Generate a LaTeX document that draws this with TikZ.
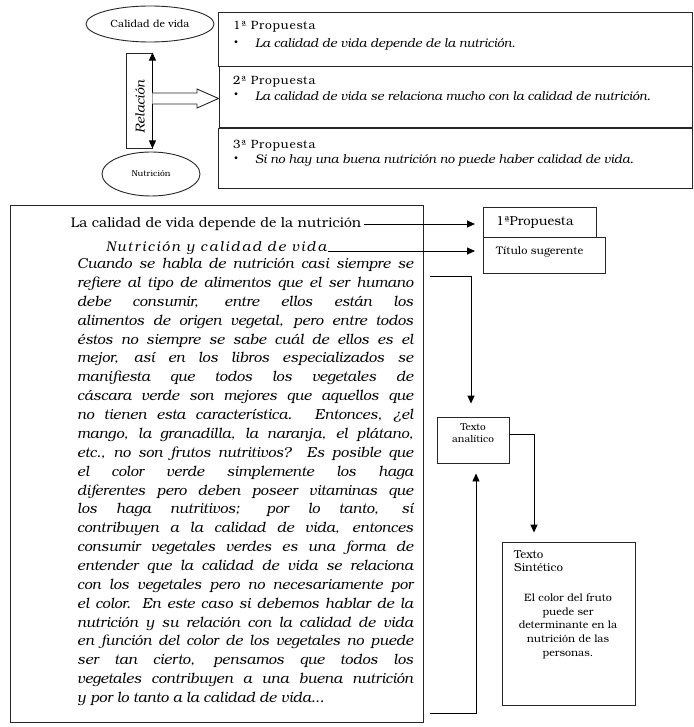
\documentclass[tikz,border=0pt]{standalone}
\usepackage{fontspec}
\setmainfont{TeX Gyre Bonum}
\usetikzlibrary{arrows.meta,shapes.geometric}
\begin{document}
\begin{tikzpicture}[x=1pt,y=-1pt,
  frame/.style={draw=black!85,line width=0.9pt},
  lbl/.style={inner sep=0pt,anchor=west},
  link/.style={line width=0.9pt,draw=black},
  arrowed/.style={-{Triangle[length=8pt,width=7pt]}},
  small/.style={font=\fontsize{8.5}{10}\selectfont},
  head/.style={font=\fontsize{12}{14}\selectfont\addfontfeature{LetterSpace=6}},
  prop/.style={font=\fontsize{12.5}{14}\selectfont\itshape}]
\useasboundingbox (0,0) rectangle (693,727);

% --- upper part: concepts and their relation
\node[ellipse,frame,minimum width=128pt,minimum height=36pt,font=\fontsize{10.5}{12}\selectfont] (cv) at (150,24) {Calidad de vida};
\node[ellipse,frame,minimum width=98pt,minimum height=44pt,small] (nu) at (151,174) {Nutrición};
\node[frame,minimum width=26pt,minimum height=95pt] (rel) at (139,100.5) {};
\node[rotate=90,font=\fontsize{13}{15}\selectfont\itshape] at (140,107) {Relación};
\draw[link,{Triangle[length=8pt,width=7pt]}-{Triangle[length=8pt,width=7pt]}] (rel.north east) -- (rel.south east);

% proposals
\node[frame,minimum width=474pt,minimum height=54pt] (p1) at (455,39) {};
\node[frame,minimum width=473pt,minimum height=61pt] (p2) at (455.5,96.5) {};
\node[frame,minimum width=474pt,minimum height=60pt] (p3) at (455,158) {};

% hollow arrow from the relation to the proposals
\draw[frame,fill=white] (rel.east |- 0,93) -- (197,93) -- (197,89) -- (p2.west |- 0,98.5)
  -- (197,108) -- (197,104) -- (rel.east |- 0,104);

\node[lbl,head] at (233,27) {1ª Propuesta};
\node[lbl,small] at (234,43) {\textbullet};
\node[lbl,prop] at (255,44) {La calidad de vida depende de la nutrición.};
\node[lbl,head] at (233,82) {2ª Propuesta};
\node[lbl,small] at (234,95) {\textbullet};
\node[lbl,prop] at (255,96) {La calidad de vida se relaciona mucho con la calidad de nutrición.};
\node[lbl,head] at (233,146) {3ª Propuesta};
\node[lbl,small] at (234,159) {\textbullet};
\node[lbl,prop] at (255,160) {Si no hay una buena nutrición no puede haber calidad de vida.};

% --- lower part: the text and its analysis
\node[frame,minimum width=413pt,minimum height=517pt] (txt) at (216.5,463.5) {};
\node[inner sep=0pt,font=\fontsize{14}{16}\selectfont] (l1) at (216,224) {La calidad de vida depende de la nutrición};
\node[inner sep=0pt,font=\fontsize{14}{16}\selectfont\itshape\addfontfeature{LetterSpace=13}] (l2) at (216,248) {Nutrición y calidad de vida};

\node[frame,minimum width=113pt,minimum height=30pt,anchor=north west,inner sep=0pt] (pr) at (483,207) {};
\node[lbl,font=\fontsize{13}{15}\selectfont] at (496,223) {1ªPropuesta};
\node[frame,minimum width=122pt,minimum height=36pt,anchor=north west,inner sep=0pt] (ts) at (483,237) {};
\node[lbl,font=\fontsize{11}{13}\selectfont] at (496,252) {Título sugerente};

\draw[link,arrowed,shorten >=8pt,shorten <=3pt] (l1.east) -- (l1.east -| pr.west);
\coordinate (l2e) at ([yshift=-3pt,xshift=2pt]l2.east);
\draw[link,arrowed,shorten >=8pt] (l2e) -- (l2e -| ts.west);

\node[anchor=north west,inner sep=0pt,text width=336pt,align=justify,
      font=\fontsize{14.5}{18.87}\selectfont\itshape] (par) at (77,258) {%
\tolerance=10000\hyphenpenalty=10000\emergencystretch=0pt
Cuando se habla de nutrición casi siempre se\linebreak
refiere al tipo de alimentos que el ser humano\linebreak
debe consumir, entre ellos están los\linebreak
alimentos de origen vegetal, pero entre todos\linebreak
éstos no siempre se sabe cuál de ellos es el\linebreak
mejor, así en los libros especializados se\linebreak
manifiesta que todos los vegetales de\linebreak
cáscara verde son mejores que aquellos que\linebreak
no tienen esta característica. Entonces, ¿el\linebreak
mango, la granadilla, la naranja, el plátano,\linebreak
etc., no son frutos nutritivos? Es posible que\linebreak
el color verde simplemente los haga\linebreak
diferentes pero deben poseer vitaminas que\linebreak
los haga nutritivos; por lo tanto, sí\linebreak
contribuyen a la calidad de vida, entonces\linebreak
consumir vegetales verdes es una forma de\linebreak
entender que la calidad de vida se relaciona\linebreak
con los vegetales pero no necesariamente por\linebreak
el color. En este caso si debemos hablar de la\linebreak
nutrición y su relación con la calidad de vida\linebreak
en función del color de los vegetales no puede\linebreak
ser tan cierto, pensamos que todos los\linebreak
vegetales contribuyen a una buena nutrición\linebreak
y por lo tanto a la calidad de vida...};

\node[frame,minimum width=72pt,minimum height=46pt,align=center,font=\fontsize{10}{12}\selectfont,text depth=14pt] (ta) at (473,440) {Texto\\analítico};
\node[frame,minimum width=133pt,minimum height=163pt] (sy) at (568.5,623.5) {};
\node[lbl,anchor=north west,align=left,font=\fontsize{11.5}{13}\selectfont] at (514,550) {Texto\\Sintético};
\node[inner sep=0pt,align=center,font=\fontsize{10.7}{13.7}\selectfont] at (568,626)
  {El color del fruto\\puede ser\\determinante en la\\nutrición de las\\personas.};

\coordinate (s1) at (430,276);
\draw[link,arrowed,shorten >=13pt] (s1) -| ([xshift=-2pt]ta.north);
\draw[link,arrowed,shorten >=9pt] ([yshift=6pt]ta.east) -| ([xshift=-34.5pt]sy.north);
\coordinate (s3) at (430,713);
\draw[link,arrowed,shorten >=10pt] (s3) -| ([xshift=3pt]ta.south);
\end{tikzpicture}
\end{document}
